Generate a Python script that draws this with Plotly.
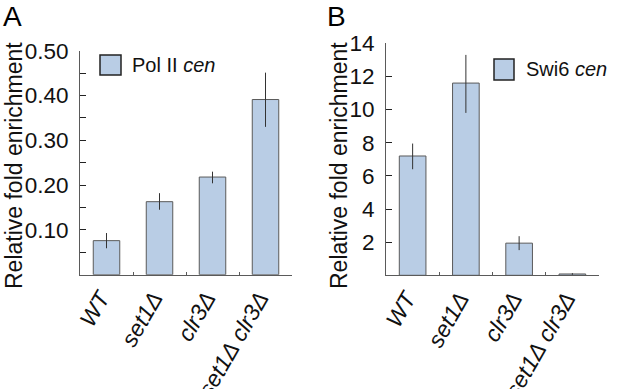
import plotly.graph_objects as go

categories = ["WT", "set1Δ", "clr3Δ", "set1Δ clr3Δ"]
tick_labels = ["<i>WT</i>", "<i>set1Δ</i>", "<i>clr3Δ</i>", "<i>set1Δ clr3Δ</i>"]

pol2_values = [0.076, 0.163, 0.218, 0.391]
pol2_err_plus = [0.017, 0.019, 0.012, 0.060]
pol2_err_minus = [0.017, 0.018, 0.014, 0.061]

swi6_values = [7.2, 11.6, 1.94, 0.08]
swi6_err_plus = [0.75, 1.7, 0.42, 0.05]
swi6_err_minus = [0.8, 1.8, 0.42, 0.05]

pol2_ticks = [0.1, 0.2, 0.3, 0.4, 0.5]
swi6_ticks = [2, 4, 6, 8, 10, 12, 14]

BAR = "#b9cde5"
EDGE = "#5a5a5a"
FONT = "Liberation Sans, Arial, sans-serif"

fig = go.Figure()
fig.add_trace(go.Bar(
    x=categories, y=pol2_values, width=0.5,
    marker=dict(color=BAR, line=dict(color=EDGE, width=1)),
    error_y=dict(type="data", array=pol2_err_plus, arrayminus=pol2_err_minus,
                 color="#333333", thickness=1, width=0),
    xaxis="x", yaxis="y", showlegend=False, name="Pol II cen"))
fig.add_trace(go.Bar(
    x=categories, y=swi6_values, width=0.5,
    marker=dict(color=BAR, line=dict(color=EDGE, width=1)),
    error_y=dict(type="data", array=swi6_err_plus, arrayminus=swi6_err_minus,
                 color="#333333", thickness=1, width=0),
    xaxis="x2", yaxis="y2", showlegend=False, name="Swi6 cen"))

W, H = 617, 389
def px(x): return x / W
def py(y): return 1 - y / H

xcommon = dict(type="category", range=[-0.5, 3.5], showline=True, linecolor=EDGE,
               linewidth=1, ticks="inside", tickson="boundaries", ticklen=3,
               tickcolor=EDGE, tickangle=-60, tickvals=categories, ticktext=tick_labels,
               tickfont=dict(family=FONT, size=23, color="#111"), showgrid=False,
               zeroline=False, automargin=False, ticklabelshift=-6)
ycommon = dict(showline=True, linecolor=EDGE, linewidth=1, ticks="inside",
               ticklen=6, tickcolor="#222", showgrid=False, zeroline=False,
               automargin=False, ticklabelstandoff=6,
               tickfont=dict(family=FONT, size=22.5, color="#111"))

fig.update_layout(
    width=W, height=H, margin=dict(l=0, r=0, t=0, b=0),
    paper_bgcolor="white", plot_bgcolor="white", bargap=0.5,
    xaxis=dict(domain=[px(80), px(292)], anchor="y", **xcommon),
    yaxis=dict(domain=[py(274.7), py(50.7)], anchor="x", range=[0, 0.5],
               tickvals=pol2_ticks, ticktext=[f"{v:.2f}" for v in pol2_ticks],
               minor=dict(dtick=0.05, tick0=0, ticks="inside", ticklen=6, tickcolor="#222"),
               **ycommon),
    xaxis2=dict(domain=[px(386), px(599)], anchor="y2", **xcommon),
    yaxis2=dict(domain=[py(275.3), py(43.3)], anchor="x2", range=[0, 14],
                tickvals=swi6_ticks, ticktext=[str(v) for v in swi6_ticks],
                **ycommon),
)

# y axis titles
for xc in (14, 339):
    fig.add_annotation(x=px(xc), y=py(166), xref="paper", yref="paper",
                       text="Relative fold enrichment", textangle=-90, showarrow=False,
                       xanchor="center", yanchor="middle",
                       font=dict(family=FONT, size=23, color="#111"))

# legend boxes
fig.add_shape(type="rect", xref="paper", yref="paper",
              x0=px(100), x1=px(121), y0=py(75), y1=py(55),
              fillcolor=BAR, line=dict(color="#222", width=1.5))
fig.add_shape(type="rect", xref="paper", yref="paper",
              x0=px(494), x1=px(514), y0=py(80), y1=py(59),
              fillcolor=BAR, line=dict(color="#222", width=1.5))
fig.add_annotation(x=px(130), y=py(65), xref="paper", yref="paper",
                   text="Pol II <i>cen</i>", showarrow=False, xanchor="left", yanchor="middle",
                   font=dict(family=FONT, size=20, color="#111"))
fig.add_annotation(x=px(524), y=py(69), xref="paper", yref="paper",
                   text="Swi6 <i>cen</i>", showarrow=False, xanchor="left", yanchor="middle",
                   font=dict(family=FONT, size=20, color="#111"))
# panel letters
fig.add_annotation(x=px(1), y=py(-1), xref="paper", yref="paper", text="A",
                   showarrow=False, xanchor="left", yanchor="top",
                   font=dict(family=FONT, size=28, color="#000"))
fig.add_annotation(x=px(325), y=py(-1), xref="paper", yref="paper", text="B",
                   showarrow=False, xanchor="left", yanchor="top",
                   font=dict(family=FONT, size=28, color="#000"))

fig.write_html("out.html", config={"displayModeBar": False},
               post_script="document.body.style.margin='0';document.body.style.padding='0';")
